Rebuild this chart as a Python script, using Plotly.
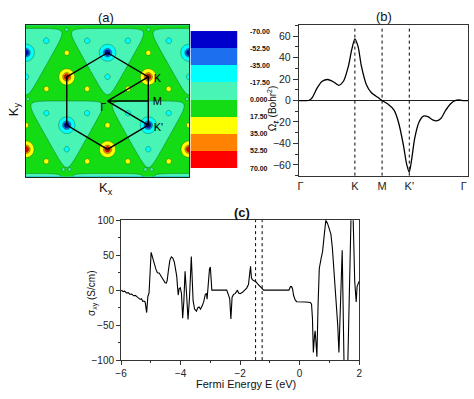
import numpy as np
import plotly.graph_objects as go

W, H = 474, 399

# ---------------- Panel (a): Berry-curvature map features ----------------
K_x = [-0.866, 0.866, 0.0, -1.732, 1.732, 0.0]
K_y = [0.5, 0.5, -1.0, -1.0, -1.0, 2.0]
Kp_x = [0.0, -1.732, 1.732, -0.866, 0.866, 0.0, -1.732, 1.732, -0.866, 0.866]
Kp_y = [1.0, 1.0, 1.0, -0.5, -0.5, -2.0, -2.0, -2.0, 2.5, 2.5]
peak_amp = 80.0
sat_pos_x = [-0.866, 0.866, -1.3, -0.433, 0.433, 1.3, -1.732, 0.0, 1.732, -1.3, -0.433, 0.433, 1.3]
sat_pos_y = [1.0, 1.0, 0.25, 0.25, 0.25, 0.25, -0.5, -0.5, -0.5, -1.25, -1.25, -1.25, -1.25]
sat_neg_x = [0.0, -0.433, 0.433, -1.732, 1.732, -1.3, 1.3, -0.866, -1.3, -0.433, 0.866, 1.3, 0.433]
sat_neg_y = [0.5, 1.25, 1.25, 0.5, 0.5, 1.25, 1.25, -1.0, -0.25, -0.25, -1.0, -0.25, -0.25]
sat_amp = 20.0
lobe_x = [-0.94, -0.80, 0.80, 0.94, -0.87, 0.87, -1.69, 1.69]
lobe_y = [-1.42, -1.42, -1.42, -1.42, 1.48, 1.48, 0.04, 0.04]
lobe_amp = 14.0
background_level = 8.0

levels = [-70, -52.5, -35, -17.5, 0, 17.5, 35, 52.5, 70]
level_text = ["-70.00", "-52.50", "-35.00", "-17.50", "0.000", "17.50", "35.00", "52.50", "70.00"]
band_colors = ['#0000CD', '#1C70F0', '#00FFFF', '#48F5B4', '#14DC14', '#FFFF00', '#FF8200', '#FF0000']

# Brillouin zone hexagon and path (Γ-K, Γ-M, Γ-K')
hex_x = [0.0, 0.866, 0.866, 0.0, -0.866, -0.866, 0.0]
hex_y = [1.0, 0.5, -0.5, -1.0, -0.5, 0.5, 1.0]
path_x = [0.866, 0.0, 0.866, 0.0, 0.866]
path_y = [0.5, 0.0, 0.0, 0.0, -0.5]
pt_labels = ["K", "M", "K'", "Γ"]
pt_lab_x = [1.06, 1.06, 1.08, -0.09]
pt_lab_y = [0.45, -0.03, -0.56, -0.16]

# ---------------- Panel (b): Berry curvature along Γ-K-M-K'-Γ ----------------
kpath = [-0.03, 0.0, 0.10, 0.16, 0.22, 0.31, 0.40, 0.50, 0.61, 0.70, 0.79, 0.88, 0.94, 1.0,
         1.06, 1.12, 1.21, 1.30, 1.42, 1.50, 1.60, 1.72, 1.80, 1.89, 1.95, 2.0, 2.04, 2.10,
         2.18, 2.26, 2.34, 2.43, 2.49, 2.58, 2.67, 2.76, 2.84, 2.91, 3.0, 3.08]
omega = [0, 0, 0, 0.3, 3, 12, 18, 19.6, 17.3, 14.2, 18, 31.8, 47, 57.5,
         50, 32, 15, 7.5, 3, 0, -3, -9, -20, -41, -59, -66.7, -56, -35,
         -20, -14.5, -15, -18, -19, -16.7, -9, -3, 0, 0.5, 0, 0]
k_ticks = [0, 1, 1.5, 2, 3]
k_labels = ["Γ", "K", "M", "K'", "Γ"]
k_lines = [1, 1.5, 2]

# ---------------- Panel (c): anomalous Hall conductivity ----------------
E = [-6.0, -5.93, -5.88, -5.82, -5.76, -5.70, -5.64, -5.58, -5.52, -5.47, -5.42, -5.36, -5.31,
     -5.27, -5.23, -5.19, -5.14, -5.10, -5.06, -4.99, -4.93, -4.88, -4.83, -4.78, -4.72, -4.67,
     -4.62, -4.57, -4.52, -4.48, -4.45, -4.41, -4.36, -4.31, -4.26, -4.21, -4.17, -4.13, -4.10,
     -4.08, -4.05, -4.01, -3.97, -3.93, -3.89, -3.85, -3.80, -3.75, -3.70, -3.64, -3.58, -3.53,
     -3.47, -3.42, -3.38, -3.33, -3.27, -3.22, -3.17, -3.13, -3.11, -3.07, -3.03, -3.00, -2.97,
     -2.95, -2.45, -2.40, -2.35, -2.31, -2.27, -2.22, -2.17, -2.12, -2.09, -2.05, -2.00, -1.92,
     -1.85, -1.78, -1.72, -1.65, -1.62, -1.59, -1.53, -1.47, -1.41, -1.35, -1.30, -1.25, -1.21,
     -0.36, -0.31, -0.27, -0.24, -0.20, -0.15, -0.10, 0.0, 0.20, 0.36, 0.40, 0.43, 0.46, 0.50,
     0.52, 0.55, 0.58, 0.62, 0.66, 0.72, 0.77, 0.83, 0.88, 0.94, 1.00, 1.05, 1.10, 1.17, 1.23,
     1.28, 1.32, 1.37, 1.43, 1.52, 1.58, 1.75, 1.77, 1.85, 1.90, 1.93, 1.96, 2.0]
sigma = [0, -2, -1.5, -4, -3.5, -6, -5.5, -8, -7.5, -10, -11, -13, -12.5,
         -16, -15.5, -17, -32, -9, -4, 54, 44, 36, 30, 25, 24.5, 21,
         17, 13, 10.5, 10, 14, 28, 43, 47.6, 46, 40, 32, 20, 3,
         -7, 2, 3.5, -5, -40, -15, 27, -5, -42, -10, 48, -15, -27,
         -30, -25, -24, -27, -22, -16, -6, -5, -13, 15, 30, 33, 5,
         0, 0, -5, -12, -41, -10, -6, -5, -2, 0, -4, -5, -3,
         0, 3, 8, 34, 18, 15, 13.5, 12, 9, 6, 3, 0.5, 0,
         0, 5, 5, 2, -8, -14, -16.5, -17, -17, -17.5, -20, -40, -89, -65,
         -58, -75, -95, -20, 31, 45, 55, 80, 100, 95, 88, 80, 60, 20, -15,
         -50, -89, -30, 57, -180, -180, 150, 150, 13, -17, 5, 8, 13]
E_lines = [-1.48, -1.26]

# ---------------- build contour grid from the features ----------------
gx = np.linspace(-1.76, 1.76, 241)
gy = np.linspace(-1.58, 1.58, 217)
X, Y = np.meshgrid(gx, gy)

normals = np.deg2rad([90.0, 210.0, 330.0])
T = 0.094
s_min = np.full(X.shape, np.inf)
for px, py in zip(Kp_x, Kp_y):
    dx, dy = X - px, Y - py
    proj = np.stack([dx * np.cos(a) + dy * np.sin(a) for a in normals])
    s = T * np.log(np.exp(proj / T).sum(axis=0))
    s_min = np.minimum(s_min, s)
Z = background_level * np.tanh((s_min - 0.5) / 0.02)

def lor(px, py, w):
    return 1.0 / (1.0 + ((X - px) ** 2 + (Y - py) ** 2) / w ** 2)

for px, py in zip(K_x, K_y):
    Z += peak_amp * lor(px, py, 0.064)
for px, py in zip(Kp_x, Kp_y):
    Z -= peak_amp * lor(px, py, 0.064)
for px, py in zip(sat_pos_x, sat_pos_y):
    Z += sat_amp * lor(px, py, 0.05)
for px, py in zip(sat_neg_x, sat_neg_y):
    Z -= sat_amp * lor(px, py, 0.05)
for px, py in zip(lobe_x, lobe_y):
    Z -= lobe_amp * np.exp(-((X - px) ** 2 + (Y - py) ** 2) / (2 * 0.03 ** 2))
Z = np.round(Z, 2)

# stepped colorscale: band below start, 8 bands, band above end
fill_colors = [band_colors[0]] + band_colors + [band_colors[-1]]
n = len(fill_colors)
cscale = []
for j, c in enumerate(fill_colors):
    lo = max(0.0, (j - 0.5) / (n - 1))
    hi = min(1.0, (j + 0.5) / (n - 1))
    cscale += [[lo, c], [hi, c]]
step = levels[1] - levels[0]

def px2x(px):
    return px / W

def py2y(py):
    return 1 - py / H

FONT = "Arial, Liberation Sans, sans-serif"

fig = go.Figure()

fig.add_trace(go.Contour(
    x=gx, y=gy, z=Z, xaxis='x', yaxis='y',
    contours=dict(start=levels[0], end=levels[-1], size=step, coloring='fill', showlines=True),
    line=dict(color='rgba(10,70,10,0.75)', width=0.5),
    colorscale=cscale, showscale=False, hoverinfo='skip'))
fig.add_trace(go.Scatter(x=hex_x, y=hex_y, mode='lines', line=dict(color='black', width=1.4),
                         xaxis='x', yaxis='y', hoverinfo='skip'))
fig.add_trace(go.Scatter(x=path_x, y=path_y, mode='lines', line=dict(color='black', width=1.4),
                         xaxis='x', yaxis='y', hoverinfo='skip'))
fig.add_trace(go.Scatter(x=pt_lab_x, y=pt_lab_y, mode='text', text=pt_labels,
                         textfont=dict(family=FONT, size=11, color='black'),
                         xaxis='x', yaxis='y', hoverinfo='skip'))

# colour bar as its own heatmap
mids = [(a + b) / 2 for a, b in zip(levels[:-1], levels[1:])]
fig.add_trace(go.Heatmap(x=[0], y=mids, z=[[m] for m in mids], colorscale=cscale,
                         zmin=levels[0] - step / 2, zmax=levels[-1] + step / 2,
                         showscale=False, xaxis='x2', yaxis='y2', hoverinfo='skip'))

# panel (b)
fig.add_trace(go.Scatter(x=kpath, y=omega, mode='lines', line=dict(color='black', width=1.3, shape='spline', smoothing=0.7),
                         xaxis='x3', yaxis='y3', hoverinfo='skip'))
# panel (c)
fig.add_trace(go.Scatter(x=E, y=sigma, mode='lines', line=dict(color='black', width=1.1),
                         xaxis='x4', yaxis='y4', hoverinfo='skip'))

shapes = []
for k in k_lines:
    shapes.append(dict(type='line', xref='x3', yref='y3 domain', x0=k, x1=k, y0=0, y1=1,
                       line=dict(color='black', width=1, dash='dot')))
for e in E_lines:
    shapes.append(dict(type='line', xref='x4', yref='y4 domain', x0=e, x1=e, y0=0, y1=1,
                       line=dict(color='black', width=1, dash='dot')))

axis_common = dict(showgrid=False, zeroline=False, showline=True, mirror=True,
                   linecolor='#333333', linewidth=1,
                   tickfont=dict(family=FONT, size=10, color='#222222'))

ann = [
    dict(text="(a)", x=px2x(102), y=py2y(13), font=dict(size=13)),
    dict(text="(b)", x=px2x(385), y=py2y(12), font=dict(size=13)),
    dict(text="<b>(c)</b>", x=px2x(241), y=py2y(213), font=dict(size=13)),
    dict(text="K<sub>y</sub>", x=px2x(8), y=py2y(107), textangle=-90, font=dict(size=13)),
    dict(text="K<sub>x</sub>", x=px2x(102), y=py2y(188), font=dict(size=13)),
    dict(text="Ω<sub>z</sub> (Bohr<sup>2</sup>)", x=px2x(271), y=py2y(106), textangle=-90, font=dict(size=10)),
    dict(text="σ<sub>xy</sub> (S/cm)", x=px2x(88), y=py2y(296), textangle=-90, font=dict(size=10)),
    dict(text="Fermi Energy E (eV)", x=px2x(245), y=py2y(389), font=dict(size=11)),
]
annotations = []
for a in ann:
    a.update(xref='paper', yref='paper', showarrow=False, xanchor='center', yanchor='middle', borderpad=0)
    a['font'] = dict(family=FONT, color='#111111', **a['font'])
    annotations.append(a)
# colour-bar labels at the band boundaries
for lv, txt in zip(levels, level_text):
    annotations.append(dict(text="<b>" + txt + "</b>", xref='paper', yref='y2', x=px2x(248), y=lv,
                            xanchor='left', yanchor='middle', showarrow=False, borderpad=0,
                            font=dict(family=FONT, size=7, color='#111111')))

fig.update_layout(
    width=W, height=H, margin=dict(l=0, r=0, t=0, b=0),
    paper_bgcolor='white', plot_bgcolor='white', showlegend=False,
    font=dict(family=FONT, size=11),
    shapes=shapes, annotations=annotations,
    xaxis=dict(domain=[px2x(20), px2x(187)], range=[-1.74, 1.74], showticklabels=False, ticks='',
               showgrid=False, zeroline=False, showline=True, mirror=True, linecolor='#143214', linewidth=1),
    yaxis=dict(domain=[py2y(176), py2y(21)], range=[-1.565, 1.565], showticklabels=False, ticks='',
               showgrid=False, zeroline=False, showline=True, mirror=True, linecolor='#143214', linewidth=1),
    xaxis2=dict(domain=[px2x(188), px2x(236)], range=[-0.5, 0.5], visible=False),
    yaxis2=dict(domain=[py2y(167.3), py2y(26.7)], anchor='x2', range=[levels[-1], levels[0]],
                showticklabels=False, ticks='', showgrid=False, zeroline=False, showline=False),
    xaxis3=dict(domain=[px2x(298.5), px2x(471)], anchor='y3', range=[-0.03, 3.08],
                tickvals=k_ticks, ticktext=k_labels, ticks='', **{k: v for k, v in axis_common.items() if k != 'tickfont'},
                tickfont=dict(family=FONT, size=11, color='#222222')),
    yaxis3=dict(domain=[py2y(175), py2y(21)], anchor='x3', range=[-70, 70], tickvals=[-60, -40, -20, 0, 20, 40, 60],
                ticks='outside', ticklen=5, tickcolor='#333333',
                minor=dict(ticks='outside', ticklen=2.5, dtick=10, tickcolor='#333333'),
                **{k: v for k, v in axis_common.items() if k not in ('zeroline', 'tickfont')},
                tickfont=dict(family=FONT, size=10.5, color='#222222'),
                zeroline=True, zerolinecolor='#222222', zerolinewidth=1),
    xaxis4=dict(domain=[px2x(117.3), px2x(360)], anchor='y4', range=[-6, 2], dtick=2, tick0=-6,
                ticks='outside', ticklen=4, tickcolor='#333333',
                minor=dict(ticks='outside', ticklen=2, dtick=1, tickcolor='#333333'), **axis_common),
    yaxis4=dict(domain=[py2y(364.3), py2y(220.7)], anchor='x4', range=[-100, 100], dtick=50,
                ticks='outside', ticklen=4, tickcolor='#333333',
                minor=dict(ticks='outside', ticklen=2, dtick=25, tickcolor='#333333'), **axis_common),
)

fig.write_html("out.html", config={'displayModeBar': False},
               post_script="document.body.style.margin='0';document.body.style.overflow='hidden';")
